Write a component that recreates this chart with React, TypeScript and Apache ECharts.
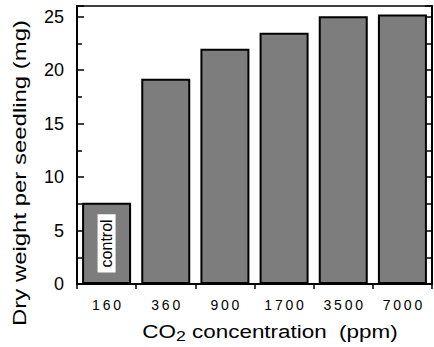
import React, { useEffect, useRef } from "react";
import * as echarts from "echarts";

const categories = ["160", "360", "900", "1700", "3500", "7000"];
const dryWeight = [7.6, 19.2, 22.0, 23.5, 25.05, 25.2];
const yTicks = [0, 5, 10, 15, 20, 25];
const controlLabel = "control";
const yName = "Dry weight per seedling (mg)";

const FONT = "Liberation Sans, Arial, Helvetica, sans-serif";

export default function App() {
  const ref = useRef<HTMLDivElement>(null);
  useEffect(() => {
    if (!ref.current) return;
    const chart = echarts.init(ref.current, null, { renderer: "svg" });
    const yAxisBase = {
      type: "value" as const,
      min: 0,
      max: 26,
      interval: 5,
      splitLine: { show: false },
      axisLine: { show: true, lineStyle: { color: "#000", width: 2 } },
      axisTick: { show: true, inside: true, length: 7, lineStyle: { color: "#000", width: 1.5 } },
      minorTick: { show: true, splitNumber: 2, length: 5, lineStyle: { color: "#000", width: 1.5 } },
    };
    chart.setOption({
      animation: false,
      backgroundColor: "#fff",
      grid: {
        left: 77,
        right: 2,
        top: 6,
        bottom: 63,
        show: true,
        borderColor: "#000",
        borderWidth: 1.5,
        backgroundColor: "transparent",
      },
      xAxis: {
        type: "category",
        data: categories,
        axisLine: { show: true, lineStyle: { color: "#000", width: 2 } },
        axisTick: { show: true, length: 5, lineStyle: { color: "#000", width: 1.5 } },
        axisLabel: {
          color: "#000",
          fontFamily: FONT,
          fontSize: 14,
          margin: 14,
          formatter: (v: string) => v.split("").join("\u2009"),
        },
      },
      yAxis: [
        {
          ...yAxisBase,
          position: "left",
          axisLabel: {
            color: "#000",
            fontFamily: FONT,
            fontSize: 18,
            margin: 13,
            formatter: (v: number) => (yTicks.includes(v) ? String(v) : ""),
          },
        },
        {
          ...yAxisBase,
          position: "right",
          axisLabel: { show: false },
        },
      ],
      series: [
        {
          type: "bar",
          data: dryWeight.map((v, i) =>
            i === 0
              ? {
                  value: v,
                  label: {
                    show: true,
                    position: "inside",
                    rotate: 90,
                    formatter: controlLabel,
                    backgroundColor: "#fff",
                    color: "#000",
                    fontFamily: FONT,
                    fontSize: 16,
                    padding: [1, 5],
                  },
                }
              : v
          ),
          barWidth: 49,
          itemStyle: { color: "#7d7d7d", borderColor: "#000", borderWidth: 2 },
        },
      ],
      graphic: [
        {
          type: "text",
          x: 19,
          y: 173,
          rotation: Math.PI / 2,
          scaleX: 1.26,
          style: {
            text: yName,
            fontFamily: FONT,
            fontSize: 19,
            fill: "#000",
            align: "center",
            verticalAlign: "middle",
          },
        },
        {
          type: "text",
          x: 270,
          y: 331,
          scaleX: 1.18,
          style: {
            text: "CO{sub|2} concentration  (ppm)",
            fontFamily: FONT,
            fontSize: 19,
            fill: "#000",
            align: "center",
            verticalAlign: "middle",
            rich: {
              sub: { fontSize: 15, fontFamily: FONT, fill: "#000", padding: [10, 0, 0, 0] },
            },
          },
        },
      ],
    });
    return () => chart.dispose();
  }, []);
  return (
    <div
      ref={ref}
      style={{ position: "fixed", left: 0, top: 0, width: 434, height: 347 }}
    />
  );
}
